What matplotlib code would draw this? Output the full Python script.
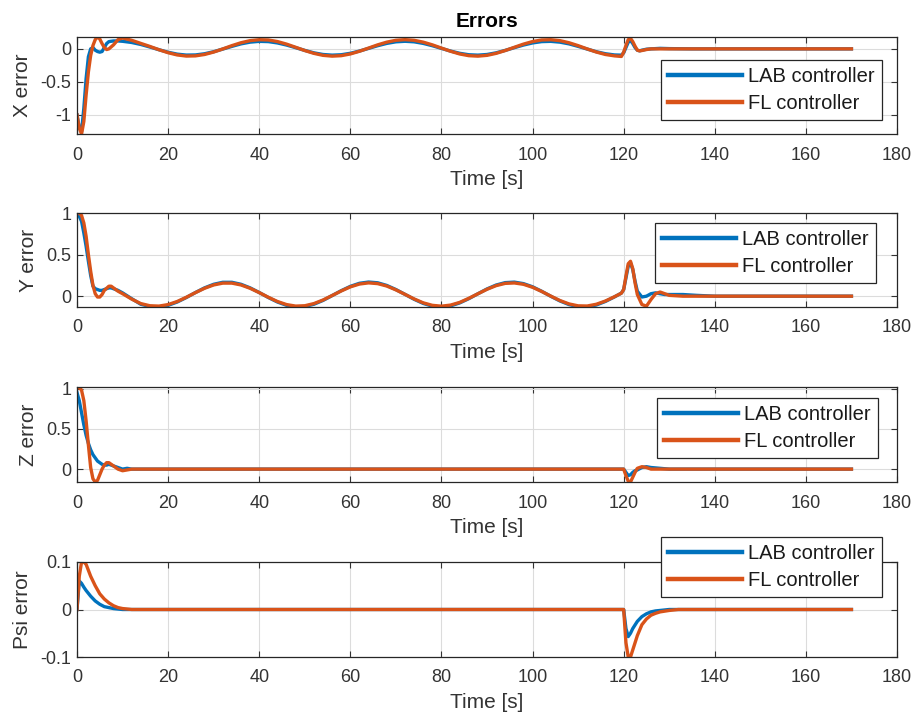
import matplotlib
matplotlib.use("Agg")
import matplotlib.pyplot as plt

plt.rcParams["font.family"] = ["Liberation Sans", "DejaVu Sans"]

LAB_COLOR = "#0072BD"
FL_COLOR = "#D95319"
TEXT_COLOR = "#333333"
labels = ["LAB controller", "FL controller"]

# ---- X error ----
t_x = [0, 0.5, 1, 1.5, 2, 2.5, 3, 3.5, 4, 4.5, 5, 5.5, 6, 6.5, 7, 8, 9, 10,
       12, 14, 16, 18, 20, 22, 24, 26, 28, 30, 32, 34, 36, 38, 40, 42, 44, 46, 48,
       50, 52, 54, 56, 58, 60, 62, 64, 66, 68, 70, 72, 74, 76, 78, 80, 82, 84, 86,
       88, 90, 92, 94, 96, 98, 100, 102, 104, 106, 108, 110, 112, 114, 116, 118,
       119.5, 120, 120.5, 121, 121.5, 122, 122.5, 123, 123.5, 124, 125, 126, 128,
       130, 135, 140, 170]
x_lab = [-1.0, -1.2, -1.25, -0.9, -0.45, -0.12, 0.0, 0.02, -0.02, -0.04, -0.05, -0.04, 0.02, 0.08, 0.11, 0.12, 0.12, 0.115,
         0.097, 0.067, 0.028, -0.013, -0.051, -0.080, -0.094, -0.092, -0.074, -0.043, -0.003, 0.038, 0.076, 0.102, 0.114, 0.110, 0.090, 0.058, 0.018,
         -0.023, -0.060, -0.085, -0.095, -0.089, -0.067, -0.033, 0.007, 0.048, 0.083, 0.107, 0.115, 0.107, 0.083, 0.048, 0.007, -0.033, -0.067, -0.089,
         -0.095, -0.085, -0.060, -0.023, 0.018, 0.058, 0.090, 0.110, 0.114, 0.102, 0.076, 0.038, -0.003, -0.043, -0.074, -0.092,
         -0.095, -0.06, 0.02, 0.10, 0.13, 0.08, 0.02, -0.02, -0.03, -0.02, -0.005, 0.0, 0.008,
         0.004, 0.0, 0.0, 0.0]
x_fl = [-1.0, -1.2, -1.29, -1.1, -0.7, -0.35, -0.1, 0.05, 0.14, 0.18, 0.15, 0.08, 0.02, -0.01, 0.0, 0.06, 0.14, 0.165,
        0.13, 0.083, 0.037, -0.013, -0.058, -0.092, -0.109, -0.106, -0.085, -0.048, -0.001, 0.049, 0.093, 0.125, 0.139, 0.135, 0.111, 0.072, 0.024,
        -0.025, -0.068, -0.098, -0.110, -0.103, -0.077, -0.036, 0.012, 0.061, 0.102, 0.130, 0.140, 0.130, 0.102, 0.061, 0.012, -0.036, -0.077, -0.103,
        -0.110, -0.098, -0.068, -0.025, 0.024, 0.072, 0.111, 0.135, 0.139, 0.125, 0.093, 0.049, -0.001, -0.048, -0.085, -0.106,
        -0.115, -0.05, 0.05, 0.14, 0.16, 0.11, 0.04, -0.02, -0.03, -0.025, -0.01, 0.0, 0.0,
        0.0, 0.0, 0.0, 0.0]

# ---- Y error ----
t_y = [0, 0.5, 1, 1.5, 2, 2.5, 3, 3.5, 4, 4.5, 5, 5.5, 6, 7, 7.5, 8, 9, 10, 12,
       14, 16, 18, 20, 22, 24, 26, 28, 30, 32, 34, 36, 38, 40, 42, 44, 46, 48,
       50, 52, 54, 56, 58, 60, 62, 64, 66, 68, 70, 72, 74, 76, 78, 80, 82, 84, 86,
       88, 90, 92, 94, 96, 98, 100, 102, 104, 106, 108, 110, 112, 114, 116, 118,
       119.5, 120, 120.5, 121, 121.5, 122, 122.5, 123, 124, 125, 126, 127, 128, 129,
       130, 133, 136, 140, 170]
y_lab = [0.97, 0.96, 0.9, 0.76, 0.6, 0.42, 0.25, 0.12, 0.09, 0.08, 0.07, 0.07, 0.08, 0.10, 0.10, 0.09, 0.07, 0.04, -0.03,
         -0.097, -0.124, -0.129, -0.110, -0.070, -0.016, 0.044, 0.100, 0.143, 0.167, 0.167, 0.143, 0.100, 0.044, -0.016, -0.070, -0.110, -0.129,
         -0.124, -0.097, -0.051, 0.007, 0.066, 0.118, 0.155, 0.170, 0.161, 0.129, 0.080, 0.022, -0.037, -0.087, -0.120, -0.130, -0.117, -0.081, -0.030,
         0.029, 0.087, 0.134, 0.163, 0.169, 0.151, 0.113, 0.059, -0.001, -0.057, -0.101, -0.126, -0.128, -0.106, -0.063, -0.008,
         0.037, 0.08, 0.22, 0.36, 0.40, 0.32, 0.18, 0.06, -0.01, 0.0, 0.03, 0.04, 0.03, 0.02,
         0.02, 0.02, 0.01, 0.0, 0.0]
y_fl = [1.0, 1.0, 0.97, 0.88, 0.72, 0.5, 0.3, 0.13, 0.03, -0.01, -0.01, 0.02, 0.07, 0.12, 0.12, 0.10, 0.06, 0.03, -0.035,
        -0.089, -0.115, -0.119, -0.101, -0.064, -0.013, 0.043, 0.095, 0.135, 0.157, 0.157, 0.135, 0.095, 0.043, -0.013, -0.064, -0.101, -0.119,
        -0.115, -0.089, -0.046, 0.008, 0.063, 0.112, 0.146, 0.160, 0.151, 0.122, 0.076, 0.022, -0.033, -0.080, -0.110, -0.120, -0.107, -0.075, -0.026,
        0.029, 0.083, 0.127, 0.154, 0.159, 0.143, 0.107, 0.057, 0.001, -0.052, -0.093, -0.116, -0.118, -0.097, -0.058, -0.006,
        0.036, 0.08, 0.24, 0.39, 0.42, 0.33, 0.16, 0.02, -0.10, -0.12, -0.04, 0.03, 0.05, 0.03,
        0.01, 0.0, 0.0, 0.0, 0.0]

# ---- Z error ----
t_z = [0, 0.5, 1, 1.5, 2, 2.5, 3, 3.5, 4, 4.5, 5, 5.5, 6, 6.5, 7, 8, 9, 10, 11, 12, 14,
       20, 120, 120.5, 121, 121.5, 122, 122.5, 123, 124, 125, 126, 128, 130, 170]
z_lab = [0.95, 0.85, 0.7, 0.55, 0.42, 0.32, 0.24, 0.18, 0.14, 0.1, 0.08, 0.06, 0.05, 0.05, 0.06, 0.04, 0.02, 0.0, 0.01, 0.0, 0.0,
         0.0, 0.0, -0.04, -0.08, -0.07, -0.04, -0.02, -0.01, 0.02, 0.03, 0.02, 0.01, 0.0, 0.0]
z_fl = [1.0, 1.02, 0.98, 0.85, 0.6, 0.3, 0.02, -0.12, -0.16, -0.14, -0.07, 0.0, 0.05, 0.08, 0.08, 0.04, 0.0, -0.02, -0.01, 0.0, 0.0,
        0.0, 0.0, -0.08, -0.15, -0.16, -0.1, -0.04, 0.01, 0.03, 0.02, 0.0, 0.0, 0.0, 0.0]

# ---- Psi error ----
t_psi = [0, 0.5, 1, 1.5, 2, 3, 4, 5, 6, 7, 8, 9, 10, 12, 14,
         120, 120.5, 121, 121.5, 122, 123, 124, 125, 126, 127, 128, 130, 132, 170]
psi_lab = [0.0, 0.06, 0.055, 0.047, 0.04, 0.028, 0.018, 0.011, 0.006, 0.004, 0.002, 0.001, 0.0, 0.0, 0.0,
           0.0, -0.04, -0.057, -0.05, -0.04, -0.025, -0.015, -0.009, -0.005, -0.003, -0.002, 0.0, 0.0, 0.0]
psi_fl = [0.0, 0.07, 0.1, 0.1, 0.095, 0.07, 0.05, 0.033, 0.022, 0.014, 0.008, 0.004, 0.002, 0.0, 0.0,
          0.0, -0.07, -0.1, -0.1, -0.085, -0.055, -0.032, -0.02, -0.012, -0.008, -0.005, -0.002, 0.0, 0.0]

panels = [
    ("X error", t_x, x_lab, x_fl, (-1.29, 0.18), [-1, -0.5, 0], ["-1", "-0.5", "0"]),
    ("Y error", t_y, y_lab, y_fl, (-0.13, 1.0), [0, 0.5, 1], ["0", "0.5", "1"]),
    ("Z error", t_z, z_lab, z_fl, (-0.16, 1.02), [0, 0.5, 1], ["0", "0.5", "1"]),
    ("Psi error", t_psi, psi_lab, psi_fl, (-0.1, 0.1), [-0.1, 0, 0.1], ["-0.1", "0", "0.1"]),
]

W, H = 919, 718
# axes boxes in pixels: (top, bottom)
boxes = [(37, 134), (213, 307), (387, 482), (562, 657)]
legend_corners = [(882, 60), (876, 223), (878, 398), (882, 537)]
left_px, right_px = 77, 897

fig = plt.figure(figsize=(W / 100, H / 100), dpi=100)
fig.patch.set_facecolor("white")

for i, (name, t, lab, fl, ylim, yt, ytl) in enumerate(panels):
    top, bot = boxes[i]
    ax = fig.add_axes([left_px / W, 1 - bot / H, (right_px - left_px) / W, (bot - top) / H])
    l1, = ax.plot(t, lab, color=LAB_COLOR, lw=2.4, solid_joinstyle="round")
    l2, = ax.plot(t, fl, color=FL_COLOR, lw=2.4, solid_joinstyle="round")
    ax.set_xlim(0, 180)
    ax.set_ylim(*ylim)
    ax.set_xticks(range(0, 181, 20))
    ax.set_yticks(yt)
    ax.set_yticklabels(ytl)
    ax.grid(True, color="#dcdcdc", lw=0.8)
    ax.set_axisbelow(True)
    ax.tick_params(direction="in", length=4, width=0.8, top=True, right=True,
                   labelsize=13, colors=TEXT_COLOR)
    ax.tick_params(axis="x", pad=9)
    ax.tick_params(axis="y", pad=4)
    for sp in ax.spines.values():
        sp.set_color("#262626")
        sp.set_linewidth(0.9)
    ax.set_xlabel("Time [s]", fontsize=15, color=TEXT_COLOR, labelpad=5)
    ax.set_ylabel(name, fontsize=15, color=TEXT_COLOR, labelpad=6)
    cx, cy = legend_corners[i]
    leg = ax.legend([l1, l2], labels, loc="upper right",
                    bbox_to_anchor=(cx / W, 1 - cy / H), bbox_transform=fig.transFigure,
                    fontsize=14.5, frameon=True, fancybox=False, framealpha=1,
                    edgecolor="#262626", borderaxespad=0, handlelength=3.7,
                    handletextpad=0.3, labelspacing=0.4, borderpad=0.35)
    leg.get_frame().set_linewidth(0.9)
    for txt in leg.get_texts():
        txt.set_color("#1a1a1a")
    for ln in leg.get_lines():
        ln.set_linewidth(3.2)
    if i == 0:
        ax.set_title("Errors", fontsize=15, fontweight="bold", pad=7)

fig.savefig("out.png", dpi=100)
